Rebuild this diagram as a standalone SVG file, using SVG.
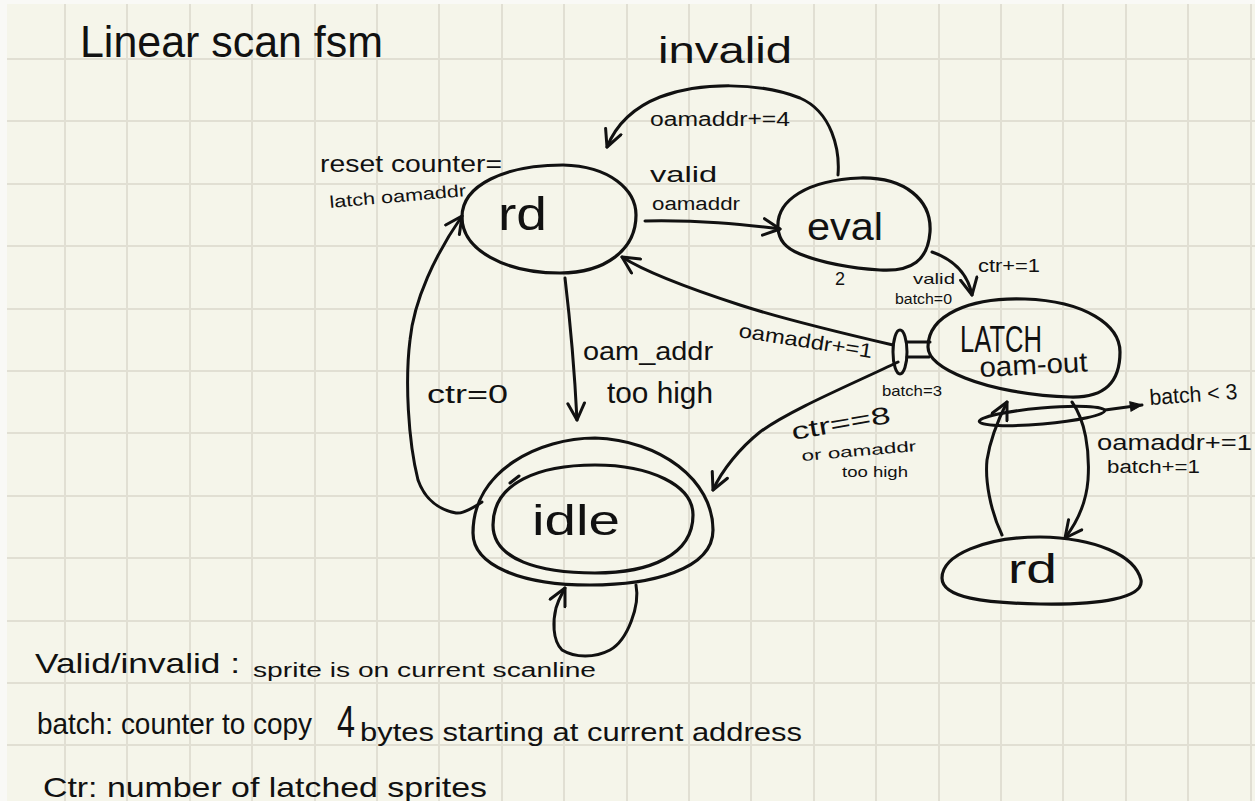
<svg xmlns="http://www.w3.org/2000/svg" width="1255" height="801" viewBox="0 0 1255 801">
<defs>
<style>
.ink{fill:none;stroke:#111;stroke-width:3;stroke-linecap:round;stroke-linejoin:round}
.node{fill:none;stroke:#111;stroke-width:3.2}
.t{font-family:"Liberation Sans","DejaVu Sans",sans-serif;fill:#111}
.grid{fill:none;stroke:#e1dfd3;stroke-width:2}
</style>
<marker id="arr" viewBox="0 0 12 12" refX="11" refY="6" markerWidth="20" markerHeight="20" markerUnits="userSpaceOnUse" orient="auto">
<path d="M1,1 L11,6 L1,11" fill="none" stroke="#111" stroke-width="1.8" stroke-linecap="round" stroke-linejoin="round"/>
</marker>
<marker id="arrf" viewBox="0 0 12 12" refX="11" refY="6" markerWidth="14" markerHeight="14" markerUnits="userSpaceOnUse" orient="auto">
<path d="M1,2 L11,6 L1,10 Z" fill="#111" stroke="#111" stroke-width="1"/>
</marker>
</defs>
<rect width="1255" height="801" fill="#f5f5ea"/>
<path class="grid" d="M65 0V801 M127 0V801 M190 0V801 M252 0V801 M315 0V801 M377 0V801 M439 0V801 M502 0V801 M564 0V801 M627 0V801 M689 0V801 M751 0V801 M814 0V801 M876 0V801 M939 0V801 M1001 0V801 M1063 0V801 M1126 0V801 M1188 0V801 M1251 0V801 M0 59H1255 M0 121H1255 M0 184H1255 M0 246H1255 M0 309H1255 M0 371H1255 M0 433H1255 M0 496H1255 M0 558H1255 M0 621H1255 M0 683H1255 M0 745H1255"/>
<rect width="1255" height="4" fill="#f9f9f6"/>
<rect width="7" height="801" fill="#f9f9f6"/>

<text class="t" x="80" y="57" font-size="44" textLength="303" lengthAdjust="spacingAndGlyphs">Linear scan fsm</text>

<g id="connectors">
<path class="ink" d="M838 175 C840 150 832 112 800 98 C760 82 700 82 660 97 C632 108 616 125 607 147" marker-end="url(#arr)"/>
<path class="ink" d="M645 221 C700 220 740 224 780 229" marker-end="url(#arr)"/>
<path class="ink" d="M932 252 C955 260 968 275 972 295" marker-end="url(#arr)"/>
<path class="ink" d="M893 345 C850 335 780 318 740 305 C700 292 650 275 622 257" marker-end="url(#arr)"/>
<path class="ink" d="M898 362 C850 385 790 410 760 432 C740 448 722 470 713 490" marker-end="url(#arr)"/>
<path class="ink" d="M565 278 C570 320 575 380 577 420" marker-end="url(#arr)"/>
<path class="ink" d="M482 502 C470 510 462 514 456 513 C440 510 425 500 418 480 C408 440 405 380 410 340 C414 300 435 255 462 216" marker-end="url(#arr)"/>
<path class="ink" d="M636 585 C640 605 628 640 610 650 C595 658 575 658 562 650 C552 640 553 620 556 608 C559 598 562 594 565 588" marker-end="url(#arr)"/>
<path class="ink" d="M1002 535 C990 510 985 480 987 460 C990 440 998 420 1007 402" marker-end="url(#arr)"/>
<path class="ink" d="M1072 402 C1085 420 1090 450 1088 480 C1086 505 1075 525 1065 538" marker-end="url(#arr)"/>
<path class="ink" d="M1105 410 L1142 405" marker-end="url(#arrf)"/>
<ellipse class="ink" cx="900" cy="352" rx="7" ry="22"/>
<path class="ink" d="M907 342 H930 M907 357 H929"/>
<ellipse class="ink" cx="1042" cy="416" rx="63" ry="8" transform="rotate(-5 1042 416)"/>

<text class="t" x="650" y="126" font-size="20" textLength="140" lengthAdjust="spacingAndGlyphs">oamaddr+=4</text>
<text class="t" x="658" y="63" font-size="36" textLength="134" lengthAdjust="spacingAndGlyphs">invalid</text>
<text class="t" x="650" y="182" font-size="22" textLength="67" lengthAdjust="spacingAndGlyphs">valid</text>
<text class="t" x="652" y="210" font-size="18" textLength="88" lengthAdjust="spacingAndGlyphs">oamaddr</text>
<text class="t" x="978" y="272" font-size="18" textLength="62" lengthAdjust="spacingAndGlyphs">ctr+=1</text>
<text class="t" x="913" y="284" font-size="15" textLength="42" lengthAdjust="spacingAndGlyphs">valid</text>
<text class="t" x="895" y="304" font-size="14" textLength="57" lengthAdjust="spacingAndGlyphs">batch=0</text>
<text class="t" x="738" y="337" font-size="20" textLength="135" lengthAdjust="spacingAndGlyphs" transform="rotate(9 738 337)">oamaddr+=1</text>
<text class="t" x="882" y="396" font-size="15" textLength="60" lengthAdjust="spacingAndGlyphs">batch=3</text>
<text class="t" x="793" y="440" font-size="24" textLength="100" lengthAdjust="spacingAndGlyphs" transform="rotate(-10 793 440)">ctr==8</text>
<text class="t" x="802" y="461" font-size="15" textLength="115" lengthAdjust="spacingAndGlyphs" transform="rotate(-5 802 461)">or oamaddr</text>
<text class="t" x="842" y="477" font-size="14" textLength="66" lengthAdjust="spacingAndGlyphs">too high</text>
<text class="t" x="583" y="360" font-size="26" textLength="130" lengthAdjust="spacingAndGlyphs">oam_addr</text>
<text class="t" x="607" y="403" font-size="30" textLength="106" lengthAdjust="spacingAndGlyphs">too high</text>
<text class="t" x="427" y="403" font-size="26" textLength="81" lengthAdjust="spacingAndGlyphs">ctr=0</text>
<text class="t" x="1150" y="405" font-size="22" textLength="88" lengthAdjust="spacingAndGlyphs" transform="rotate(-4 1150 405)">batch &lt; 3</text>
<text class="t" x="1097" y="450" font-size="22" textLength="155" lengthAdjust="spacingAndGlyphs">oamaddr+=1</text>
<text class="t" x="1107" y="473" font-size="18" textLength="93" lengthAdjust="spacingAndGlyphs">batch+=1</text>
</g>

<g id="node-rd">
<path class="node" d="M462 217 C462 185 505 165 563 165 C610 166 636 190 636 215 C636 250 605 273 560 273 C505 273 462 250 462 217 Z"/>
<text class="t" x="498" y="230" font-size="46" textLength="49" lengthAdjust="spacingAndGlyphs">rd</text>
<text class="t" x="320" y="172" font-size="24" textLength="182" lengthAdjust="spacingAndGlyphs">reset counter=</text>
<text class="t" x="330" y="208" font-size="17" textLength="137" lengthAdjust="spacingAndGlyphs" transform="rotate(-5 330 208)">latch oamaddr</text>
</g>

<g id="node-eval">
<path class="node" d="M778 228 C776 200 808 180 860 178 C905 177 932 200 930 232 C928 260 912 272 880 270 C850 268 820 262 800 254 C785 248 779 240 778 228 Z"/>
<text class="t" x="807" y="240" font-size="38" textLength="76" lengthAdjust="spacingAndGlyphs">eval</text>
<text class="t" x="835" y="285" font-size="18">2</text>
</g>

<g id="node-latch">
<path class="node" d="M928 347 C928 315 970 297 1025 299 C1085 301 1120 325 1120 352 C1120 382 1105 398 1070 397 C1030 396 990 388 965 378 C940 368 928 358 928 347 Z"/>
<text class="t" x="960" y="352" font-size="36" textLength="82" lengthAdjust="spacingAndGlyphs">LATCH</text>
<text class="t" x="980" y="377" font-size="28" textLength="108" lengthAdjust="spacingAndGlyphs" transform="rotate(-3 980 377)">oam-out</text>
</g>

<g id="node-idle">
<path class="node" d="M473 533 C473 470 540 438 595 438 C660 440 713 480 713 530 C713 570 650 585 590 585 C520 585 473 565 473 533 Z"/>
<path class="node" d="M493 525 C493 482 540 465 595 465 C650 465 693 485 693 515 C693 555 650 573 595 573 C540 573 493 560 493 525 Z"/>
<path class="ink" d="M510 483 L519 476"/>
<text class="t" x="532" y="535" font-size="42" textLength="88" lengthAdjust="spacingAndGlyphs">idle</text>
</g>

<g id="node-rd2">
<path class="node" d="M942 578 C942 555 985 537 1040 537 C1095 538 1135 555 1141 580 C1144 598 1100 605 1040 604 C985 603 942 598 942 578 Z"/>
<text class="t" x="1008" y="583" font-size="40" textLength="49" lengthAdjust="spacingAndGlyphs">rd</text>
</g>

<g id="legend">
<text class="t" x="35" y="673" font-size="28" textLength="205" lengthAdjust="spacingAndGlyphs">Valid/invalid :</text>
<text class="t" x="253" y="677" font-size="20" textLength="343" lengthAdjust="spacingAndGlyphs">sprite is on current scanline</text>
<text class="t" x="37" y="734" font-size="30" textLength="275" lengthAdjust="spacingAndGlyphs">batch: counter to copy</text>
<text class="t" x="337" y="737" font-size="44" textLength="18" lengthAdjust="spacingAndGlyphs">4</text>
<text class="t" x="360" y="741" font-size="26" textLength="442" lengthAdjust="spacingAndGlyphs">bytes starting at current address</text>
<text class="t" x="43" y="797" font-size="28" textLength="444" lengthAdjust="spacingAndGlyphs">Ctr: number of latched sprites</text>
</g>
</svg>
